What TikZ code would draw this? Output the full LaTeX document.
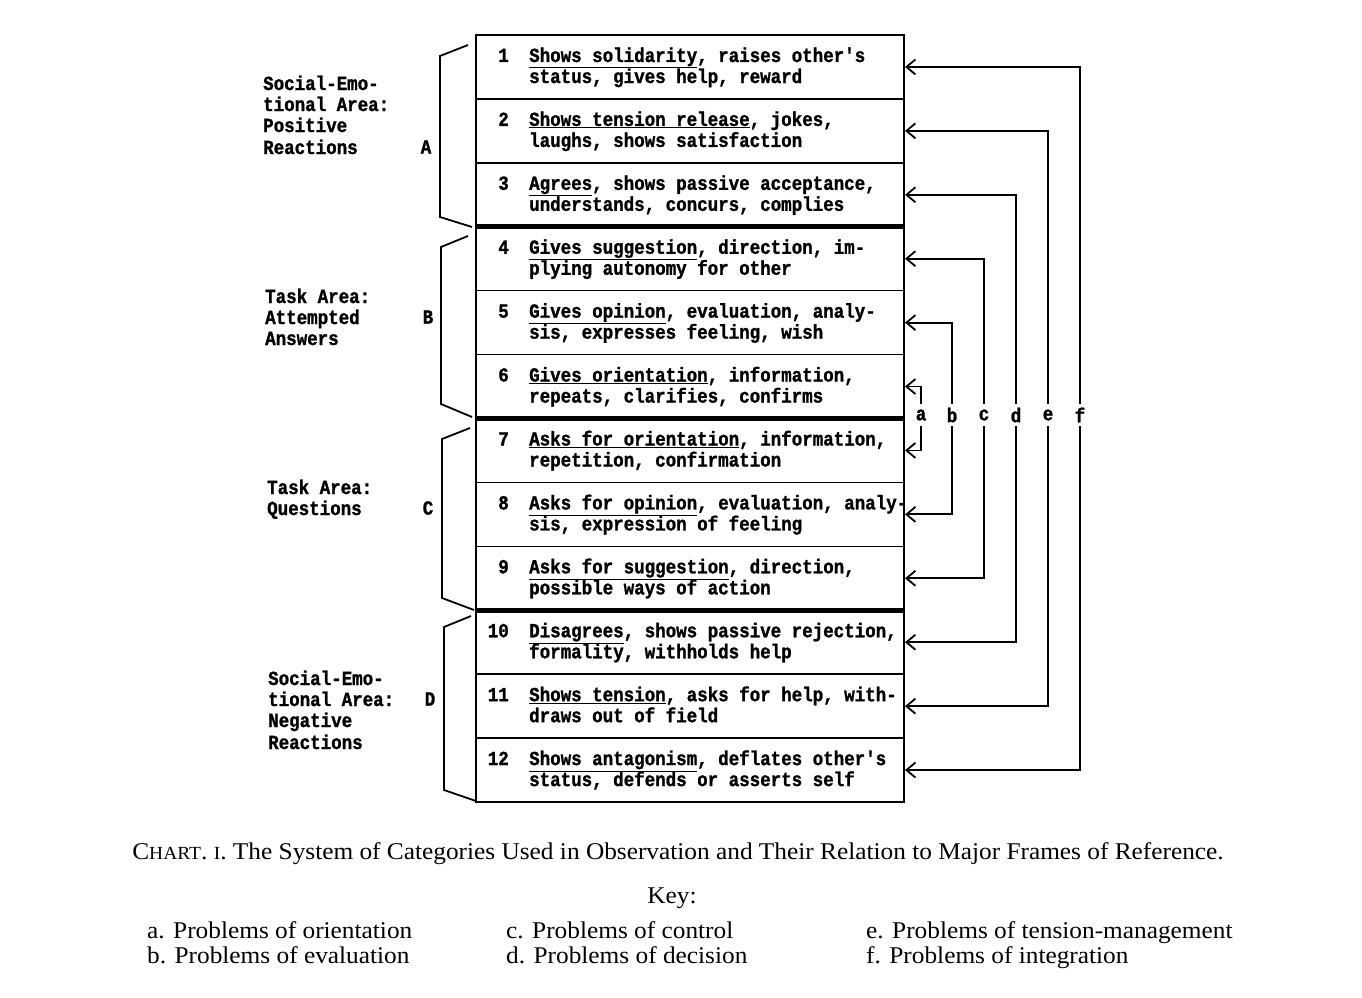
\documentclass[tikz,border=0pt]{standalone}
\usepackage{fontspec}
\setmainfont{Liberation Serif}
\newfontfamily\twfam{Liberation Mono}[FakeStretch=0.875,BoldFeatures={FakeBold=1.2}]
\newfontfamily\serfam{Liberation Serif}[FakeStretch=1.055]
\usetikzlibrary{arrows.meta}
\newcommand\twf{\fontsize{20}{21}\twfam\bfseries}
\newcommand\capf{\fontsize{24}{28}\serfam}
\newcommand\mysc[1]{{\fontsize{18.5}{20}\selectfont #1}}
\newcommand\catrow[3]{%
  \pgfmathsetmacro\rt{35+(#1-1)*63.917}%
  \node[num] (n#1) at (509,\rt+27) {#1};
  \node[cat] (t#1a) at (529,\rt+27) {#2};
  \node[cat] (t#1b) at (529,\rt+48) {#3};
}
\begin{document}
\begin{tikzpicture}[x=1pt,y=-1pt,
  cat/.style={anchor=base west,inner sep=0pt,font=\twf},
  num/.style={anchor=base east,inner sep=0pt,font=\twf},
  area/.style={anchor=base west,inner sep=0pt,font=\twf},
  grp/.style={inner sep=0pt,font=\twf},
  lab/.style={inner sep=0pt,minimum height=22pt,font=\twf},
  frame/.style={line width=2pt},
  sep/.style={line width=1.4pt},
  thicksep/.style={line width=5pt},
  brace/.style={line width=1.8pt,line join=miter},
  conn/.style={line width=1.8pt,-{Straight Barb[length=9pt,width=15pt,line width=1.8pt]}},
  capt/.style={anchor=base,inner sep=0pt,font=\capf},
  key/.style={anchor=base west,inner sep=0pt,font=\capf}]
\useasboundingbox (0,0) rectangle (1362,998);
\fill[white] (0,0) rectangle (1362,998);

% separators
\foreach \i in {1,2,4,5,7,8,10,11}
  \draw[sep] (476,{35+\i*63.917}) -- (904,{35+\i*63.917});
\foreach \i in {3,6,9}
  \draw[thicksep] (476,{35+\i*63.917}) -- (904,{35+\i*63.917});
\draw[frame] (476,35) rectangle (904,802);

% row anchors on the right edge
\foreach \i in {1,...,12}
  \coordinate (R\i) at (905,{35+(\i-0.5)*63.917});

% category rows
\catrow{1}{\underline{Shows solidarity}, raises other's}{status, gives help, reward}
\catrow{2}{\underline{Shows tension release}, jokes,}{laughs, shows satisfaction}
\catrow{3}{\underline{Agrees}, shows passive acceptance,}{understands, concurs, complies}
\catrow{4}{\underline{Gives suggestion}, direction, im-}{plying autonomy for other}
\catrow{5}{\underline{Gives opinion}, evaluation, analy-}{sis, expresses feeling, wish}
\catrow{6}{\underline{Gives orientation}, information,}{repeats, clarifies, confirms}
\catrow{7}{\underline{Asks for orientation}, information,}{repetition, confirmation}
\catrow{8}{\underline{Asks for opinion}, evaluation, analy-}{sis, expression of feeling}
\catrow{9}{\underline{Asks for suggestion}, direction,}{possible ways of action}
\catrow{10}{\underline{Disagrees}, shows passive rejection,}{formality, withholds help}
\catrow{11}{\underline{Shows tension}, asks for help, with-}{draws out of field}
\catrow{12}{\underline{Shows antagonism}, deflates other's}{status, defends or asserts self}

% braces
\draw[brace] (468,45) -- (440,56) -- (440,217) -- (472,227);
\draw[brace] (468,236) -- (441,247) -- (441,404) -- (472,417);
\draw[brace] (470,428) -- (442,439) -- (442,598) -- (474,610);
\draw[brace] (471,616) -- (444,627) -- (444,790) -- (476,801);

% group letters
\node[grp] (gA) at (426,147) {A};
\node[grp] (gB) at (428,317) {B};
\node[grp] (gC) at (428,508) {C};
\node[grp] (gD) at (430,699) {D};

% area labels
\node[area] (a1) at (263,90) {Social-Emo-};
\node[area] (a2) at (263,111) {tional Area:};
\node[area] (a3) at (263,132) {Positive};
\node[area] (a4) at (263,154) {Reactions};
\node[area] (b1) at (265,303) {Task Area:};
\node[area] (b2) at (265,324) {Attempted};
\node[area] (b3) at (265,345) {Answers};
\node[area] (c1) at (267,494) {Task Area:};
\node[area] (c2) at (267,515) {Questions};
\node[area] (d1) at (268,685) {Social-Emo-};
\node[area] (d2) at (268,706) {tional Area:};
\node[area] (d3) at (268,727) {Negative};
\node[area] (d4) at (268,749) {Reactions};

% frame labels
\node[lab] (la) at (921,415) {a};
\node[lab] (lb) at (952,415) {b};
\node[lab] (lc) at (984,415) {c};
\node[lab] (ld) at (1016,415) {d};
\node[lab] (le) at (1048,415) {e};
\node[lab] (lf) at (1080,415) {f};

% connectors
\draw[conn] (la.north) |- (R6);  \draw[conn] (la.south) |- (R7);
\draw[conn] (lb.north) |- (R5);  \draw[conn] (lb.south) |- (R8);
\draw[conn] (lc.north) |- (R4);  \draw[conn] (lc.south) |- (R9);
\draw[conn] (ld.north) |- (R3);  \draw[conn] (ld.south) |- (R10);
\draw[conn] (le.north) |- (R2);  \draw[conn] (le.south) |- (R11);
\draw[conn] (lf.north) |- (R1);  \draw[conn] (lf.south) |- (R12);

% caption and key
\node[capt] (cap) at (678,859) {C\mysc{HART}. \mysc{I}. The System of Categories Used in Observation and Their Relation to Major Frames of Reference.};
\node[capt] (keyt) at (672,903) {Key:};
\node[key] (ka) at (147,938) {a. Problems of orientation};
\node[key] (kb) at (147,963) {b. Problems of evaluation};
\node[key] (kc) at (506,938) {c. Problems of control};
\node[key] (kd) at (506,963) {d. Problems of decision};
\node[key] (ke) at (866,938) {e. Problems of tension-management};
\node[key] (kf) at (866,963) {f. Problems of integration};
\end{tikzpicture}
\end{document}
